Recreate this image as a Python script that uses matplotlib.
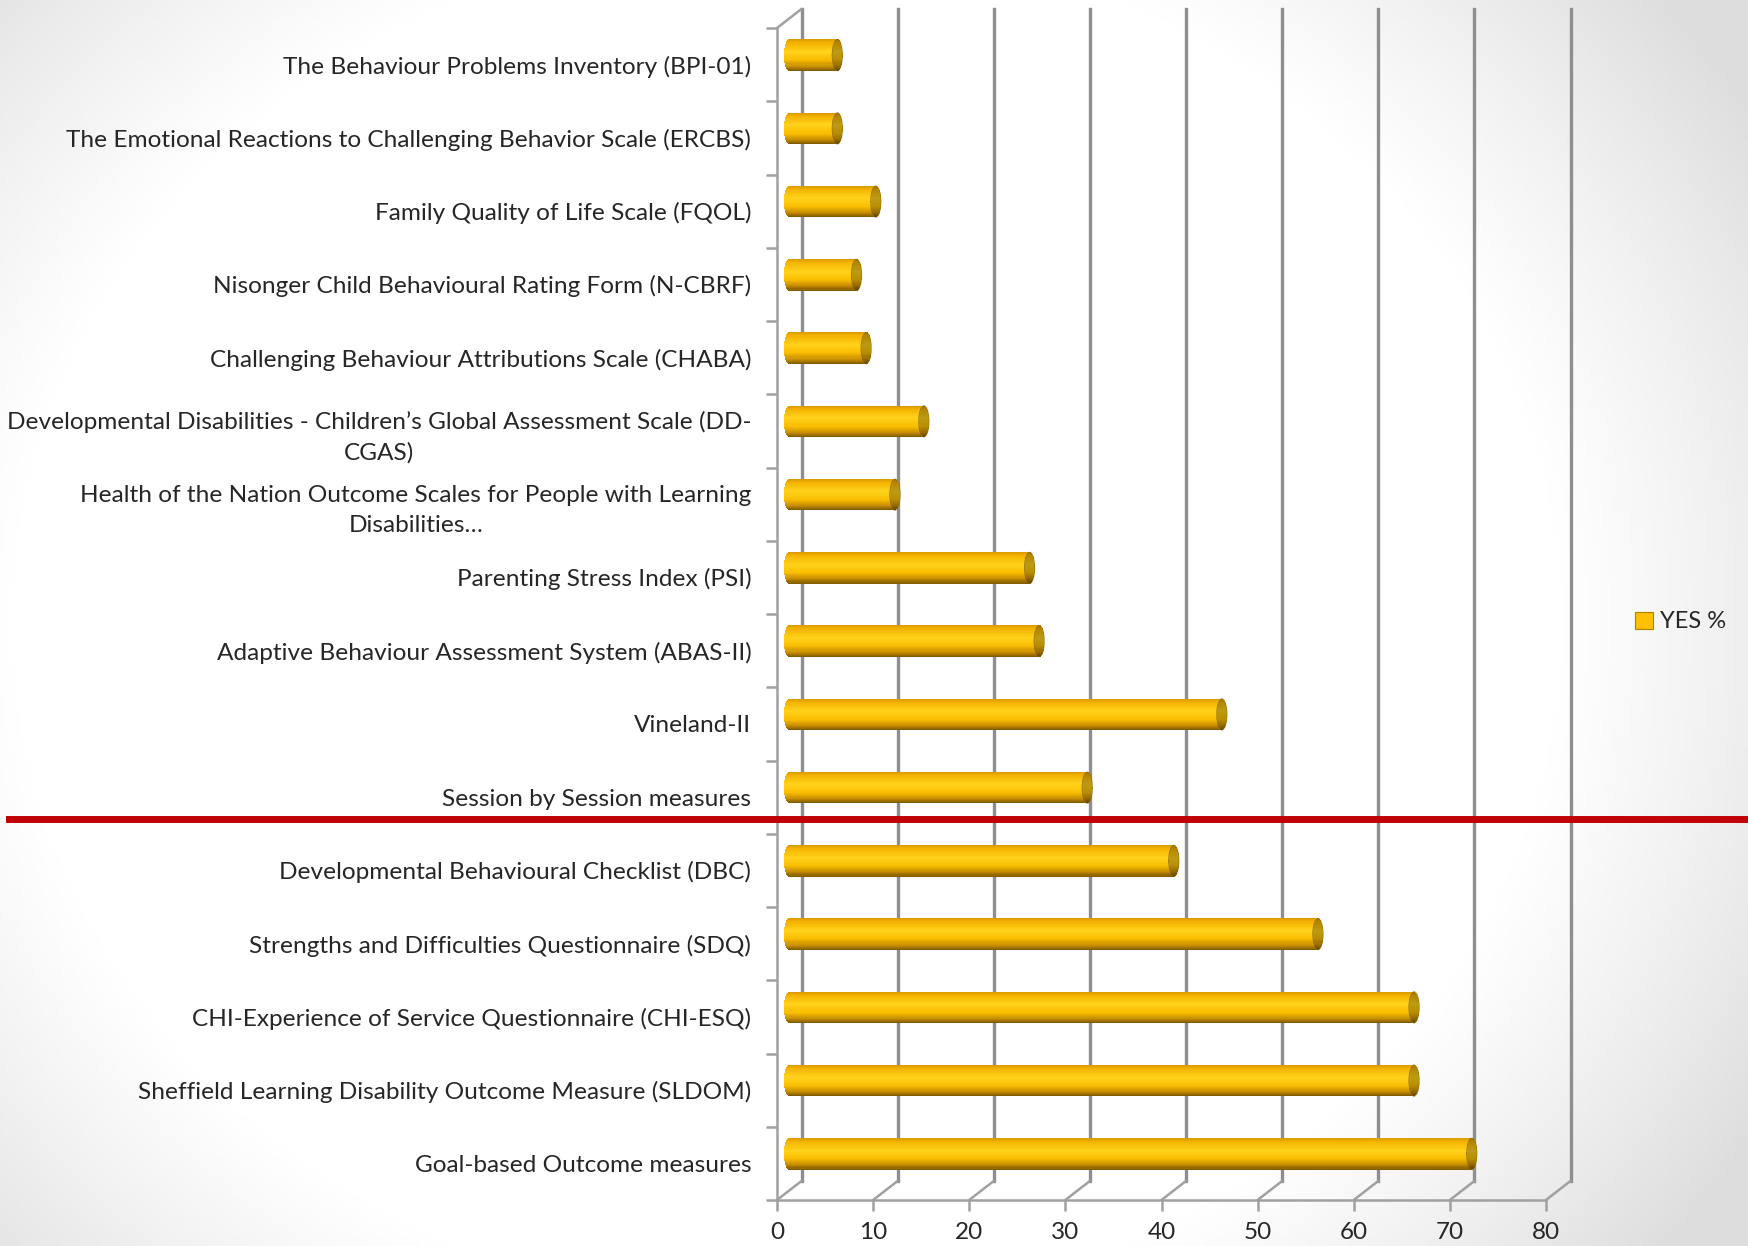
import numpy as np
import matplotlib
matplotlib.use("Agg")
import matplotlib.pyplot as plt
from matplotlib.transforms import Affine2D, blended_transform_factory
from matplotlib.patches import Patch, Ellipse, ConnectionPatch
from matplotlib.lines import Line2D

plt.rcParams['font.family'] = ['Lato', 'DejaVu Sans']

# Data (top to bottom, as shown)
measures = [
    "The Behaviour Problems Inventory (BPI-01)",
    "The Emotional Reactions to Challenging Behavior Scale (ERCBS)",
    "Family Quality of Life Scale (FQOL)",
    "Nisonger Child Behavioural Rating Form (N-CBRF)",
    "Challenging Behaviour Attributions Scale (CHABA)",
    "Developmental Disabilities - Children\u2019s Global Assessment Scale (DD-\nCGAS)",
    "Health of the Nation Outcome Scales for People with Learning\nDisabilities\u2026",
    "Parenting Stress Index (PSI)",
    "Adaptive Behaviour Assessment System (ABAS-II)",
    "Vineland-II",
    "Session by Session measures",
    "Developmental Behavioural Checklist (DBC)",
    "Strengths and Difficulties Questionnaire (SDQ)",
    "CHI-Experience of Service Questionnaire (CHI-ESQ)",
    "Sheffield Learning Disability Outcome Measure (SLDOM)",
    "Goal-based Outcome measures",
]
yes_pct = [5, 5, 9, 7, 8, 14, 11, 25, 26, 45, 31, 40, 55, 65, 65, 71]
x_ticks = [0, 10, 20, 30, 40, 50, 60, 70, 80]
series_name = "YES %"
split_after = 10  # red divider sits below "Session by Session measures"

W, H = 1748, 1246
fig = plt.figure(figsize=(W / 100, H / 100), dpi=100)

# slide background: white centre, soft grey towards edges
bg = fig.add_axes([0, 0, 1, 1], zorder=-10)
gx, gy = np.meshgrid(np.linspace(0, 1, 350), np.linspace(0, 1, 250))
d = ((gx - 0.45) / 0.60) ** 2 + ((gy - 0.5) / 0.75) ** 2
shade = 1 - 0.13 * np.clip((d - 0.55) / 0.6, 0, 1)
bg.imshow(np.dstack([shade] * 3), extent=[0, 1, 0, 1], aspect='auto', origin='lower')
bg.axis('off')

ax = fig.add_axes([777 / W, 46 / H, 769 / W, 1172 / H])
ax.patch.set_alpha(0)
n = len(measures)
ax.set_xlim(0, 80)
ax.set_ylim(n - 0.5, -0.5)

grid_c = '#8e8e8e'
back = ax.transData + Affine2D().translate(24.5, 19)
mid = ax.transData + Affine2D().translate(12.25, 9.5)

# back wall gridlines and floor diagonals
for v in x_ticks:
    ax.plot([v, v], [n - 0.5, -0.5], transform=back, color=grid_c, lw=2.4,
            clip_on=False, zorder=1)
    ax.add_artist(ConnectionPatch((v, n - 0.5), (v, n - 0.5), coordsA=ax.transData,
                                  coordsB=back, color='#a0a0a0', lw=1.8, zorder=1))
ax.add_artist(ConnectionPatch((0, -0.5), (0, -0.5), coordsA=ax.transData,
                              coordsB=back, color='#a0a0a0', lw=1.8, zorder=1))

# cylinder shading
stops = [0.0, 0.12, 0.4, 0.65, 0.85, 1.0]
cols = np.array([matplotlib.colors.to_rgb(c) for c in
                 ['#D99800', '#F4B400', '#FFD21C', '#F9BE00', '#C88E00', '#7A5600']])
def shade_at(t):
    return tuple(np.interp(t, stops, cols[:, k]) for k in range(3))

bar_h = 0.43
rx = 0.55
ns = 30
for i, v in enumerate(yes_pct):
    for k in range(ns):
        t = (k + 0.5) / ns
        yk = i - bar_h / 2 + t * bar_h
        w = rx * np.sqrt(max(0.0, 1 - (2 * t - 1) ** 2))
        c = shade_at(t)
        ax.barh(yk, v + w, left=-w, height=bar_h / ns * 1.1, color=c,
                transform=mid, zorder=3, lw=0)
        cc = tuple(0.74 * x for x in c)
        ax.barh(yk, 2 * w, left=v - w, height=bar_h / ns * 1.1, color=cc,
                transform=mid, zorder=4, lw=0)
    ax.add_patch(Ellipse((v, i), 2 * rx, bar_h, fill=False, edgecolor='#9a7000',
                         lw=0.4, transform=mid, zorder=5))

# axes, ticks, labels
for s in ['top', 'right']:
    ax.spines[s].set_visible(False)
for s in ['left', 'bottom']:
    ax.spines[s].set_color('#a0a0a0')
    ax.spines[s].set_linewidth(1.8)

ax.set_xticks(x_ticks)
ax.tick_params(axis='x', length=8, width=1.8, color='#a0a0a0', pad=8,
               labelsize=17.5, labelcolor='#262626')
ax.set_yticks(np.arange(-0.5, n, 1))
ax.set_yticklabels([])
ax.tick_params(axis='y', which='major', length=8, width=1.8, color='#a0a0a0')
ax.set_yticks(range(n), labels=measures, minor=True)
ax.tick_params(axis='y', which='minor', length=0, pad=18.5, labelsize=17.6,
               labelcolor='#262626')
for lab in ax.get_yticklabels(minor=True):
    lab.set_multialignment('center')
    lab.set_linespacing(1.5)

# red divider line across the slide
red_tr = blended_transform_factory(fig.transFigure,
                                   ax.transData + Affine2D().translate(0, 14.5))
fig.add_artist(Line2D([0.005, 1.0], [split_after + 0.5] * 2, transform=red_tr,
                      color='#C00000', lw=5.0, zorder=20))

fig.legend([Patch(facecolor='#FFC000', edgecolor='#B08000', lw=0.8)], [series_name],
           loc='center left', bbox_to_anchor=(1614 / W, 1 - 622 / H), frameon=False,
           handlelength=0.75, handleheight=0.75, handletextpad=0.3, fontsize=17,
           labelcolor='#262626')

fig.savefig("out.png", dpi=100)
